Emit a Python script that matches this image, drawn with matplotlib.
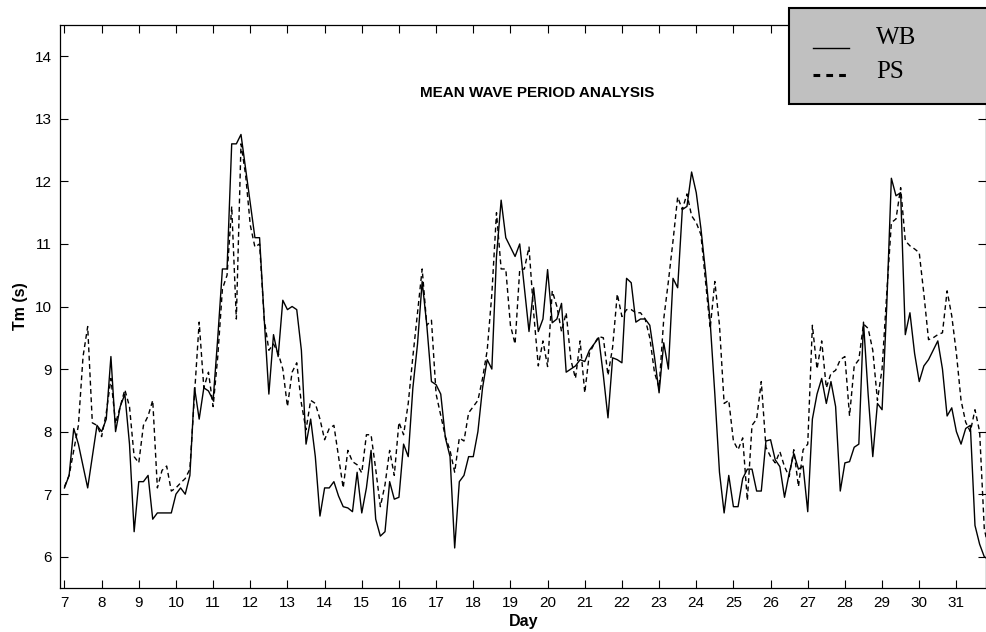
import numpy as np
import matplotlib.pyplot as plt
from matplotlib.patches import Rectangle
from matplotlib.lines import Line2D

# mean wave period, 3-hourly records starting day 7 00:00
wb = [7.1, 7.3, 8.05, 7.8, 7.45, 7.1, 7.6, 8.1,
      8.0, 8.2, 9.2, 8.0, 8.4, 8.6, 7.8, 6.4,
      7.2, 7.2, 7.3, 6.6, 6.7, 6.7, 6.7, 6.7,
      7.0, 7.1, 7.0, 7.3, 8.7, 8.2, 8.7, 8.65,
      8.5, 9.5, 10.6, 10.6, 12.6, 12.6, 12.75, 12.2,
      11.65, 11.1, 11.1, 9.8, 8.6, 9.55, 9.2, 10.1,
      9.95, 10.0, 9.95, 9.3, 7.8, 8.2, 7.6, 6.65,
      7.1, 7.1, 7.2, 6.97, 6.8, 6.78, 6.72, 7.35,
      6.7, 7.1, 7.7, 6.6, 6.33, 6.4, 7.2, 6.92,
      6.95, 7.8, 7.6, 8.7, 9.4, 10.4, 9.7, 8.8,
      8.75, 8.6, 7.9, 7.6, 6.14, 7.2, 7.3, 7.6,
      7.6, 8.0, 8.7, 9.15, 9.0, 10.8, 11.7, 11.1,
      10.95, 10.8, 11.0, 10.3, 9.6, 10.3, 9.6, 9.8,
      10.59, 9.74, 9.8, 10.05, 8.95, 9.0, 9.05, 9.15,
      9.12, 9.3, 9.4, 9.5, 8.9, 8.22, 9.18, 9.15,
      9.1, 10.45, 10.38, 9.75, 9.8, 9.8, 9.7, 9.2,
      8.62, 9.42, 9.0, 10.45, 10.3, 11.55, 11.6, 12.15,
      11.82, 11.25, 10.55, 9.75, 8.6, 7.35, 6.7, 7.3,
      6.8, 6.8, 7.25, 7.4, 7.4, 7.05, 7.05, 7.85,
      7.87, 7.55, 7.44, 6.95, 7.33, 7.65, 7.4, 7.45,
      6.72, 8.2, 8.6, 8.85, 8.45, 8.8, 8.4, 7.05,
      7.5, 7.52, 7.75, 7.8, 9.75, 8.6, 7.6, 8.45,
      8.35, 10.0, 12.05, 11.77, 11.82, 9.55, 9.9, 9.25,
      8.8, 9.05, 9.15, 9.3, 9.45, 9.0, 8.25, 8.38,
      8.0, 7.8, 8.05, 8.1, 6.5, 6.2, 6.0, 5.95]

ps = [7.12, 7.3, 7.7, 8.1, 9.2, 9.68, 8.14, 8.1,
      7.92, 8.3, 8.85, 8.13, 8.4, 8.67, 8.4, 7.6,
      7.5, 8.1, 8.25, 8.5, 7.1, 7.38, 7.45, 7.05,
      7.1, 7.18, 7.25, 7.4, 8.6, 9.75, 8.7, 8.95,
      8.4, 9.2, 10.28, 10.5, 11.6, 9.8, 12.6, 12.1,
      11.3, 10.95, 11.0, 9.8, 9.3, 9.4, 9.26, 9.0,
      8.4, 8.95, 9.1, 8.45, 8.03, 8.5, 8.45, 8.2,
      7.87, 8.05, 8.1, 7.6, 7.1, 7.7, 7.52, 7.47,
      7.34, 7.95, 7.95, 7.4, 6.8, 7.15, 7.7, 7.3,
      8.15, 7.95, 8.45, 9.2, 9.9, 10.6, 9.7, 9.78,
      8.6, 8.26, 7.92, 7.7, 7.35, 7.9, 7.85, 8.3,
      8.4, 8.5, 8.85, 9.3, 10.2, 11.5, 10.6, 10.6,
      9.7, 9.4, 10.59, 10.6, 10.95, 9.9, 9.05, 9.45,
      9.04, 10.25, 10.0, 9.6, 9.9, 9.15, 8.85, 9.45,
      8.62, 9.25, 9.4, 9.52, 9.5, 8.9, 9.35, 10.2,
      9.84, 9.95, 9.95, 9.9, 9.9, 9.8, 9.5, 8.95,
      8.7, 9.8, 10.4, 11.05, 11.75, 11.55, 11.8, 11.45,
      11.34, 11.15, 10.4, 9.65, 10.4, 9.7, 8.45, 8.5,
      7.85, 7.71, 7.9, 6.9, 8.1, 8.2, 8.8, 7.75,
      7.6, 7.5, 7.68, 7.44, 7.28, 7.71, 7.12, 7.71,
      7.8, 9.7, 9.0, 9.45, 8.7, 8.93, 8.98, 9.15,
      9.2, 8.25, 9.05, 9.15, 9.72, 9.65, 9.3, 8.5,
      9.0, 10.2, 11.34, 11.4, 11.9, 11.05, 10.97, 10.92,
      10.86, 10.2, 9.47, 9.5, 9.55, 9.58, 10.25, 9.85,
      9.25, 8.5, 8.15, 8.0, 8.35, 8.0, 6.45, 6.1]

day = 7 + np.arange(len(wb)) * 3 / 24
day_ticks = list(range(7, 32))
tm_ticks = list(range(6, 15))

wb_style = dict(color='black', linewidth=1.0, linestyle='-')
ps_style = dict(color='black', linewidth=1.0, linestyle=(0, (3.5, 2.5)))

fig = plt.figure(figsize=(9.87, 6.32), dpi=100)
ax = fig.add_axes([60 / 987, 44 / 632, 926.5 / 987, 563 / 632])

ax.plot(day, wb, **wb_style)
ax.plot(day, ps, **ps_style)

ax.set_xlim(6.88, 31.81)
ax.set_ylim(5.5, 14.5)
ax.set_xticks(day_ticks)
ax.set_yticks(tm_ticks)
ax.tick_params(direction='in', length=6, width=0.8, top=True, right=True,
               labelsize=11, pad=6, colors='black')
for lab in ax.get_xticklabels() + ax.get_yticklabels():
    lab.set_family('Liberation Sans')
for s in ax.spines.values():
    s.set_linewidth(0.9)

ax.set_xlabel('Day', fontsize=11.5, fontweight='bold', family='Liberation Sans')
ax.set_ylabel('Tm (s)', fontsize=11.5, fontweight='bold', family='Liberation Sans')
ax.xaxis.set_label_coords(0.5, -0.047)
ax.yaxis.set_label_coords(-0.035, 0.5)

ax.text(0.515, 0.879, 'MEAN WAVE PERIOD ANALYSIS', transform=ax.transAxes,
        ha='center', va='center', fontsize=11, fontweight='bold',
        family='Liberation Sans')

# legend box in the top right corner, running off the edge
W, H = 987, 632
box = Rectangle((789 / W, 1 - 104 / H), 220 / W, 96 / H, transform=fig.transFigure,
                facecolor='#c0c0c0', edgecolor='black', linewidth=1.5,
                zorder=5, clip_on=False)
fig.add_artist(box)
fig.add_artist(Line2D([813 / W, 849 / W], [1 - 48 / H, 1 - 48 / H],
                      transform=fig.transFigure, zorder=6, **wb_style))
fig.add_artist(Line2D([813 / W, 849 / W], [1 - 75 / H, 1 - 75 / H],
                      transform=fig.transFigure, zorder=6, color='black',
                      linewidth=2.2, linestyle=(0, (2.2, 2.0))))
fig.text(876 / W, 1 - 38 / H, 'WB', family='Liberation Serif', fontsize=18,
         va='center', ha='left', zorder=7)
fig.text(876 / W, 1 - 72 / H, 'PS', family='Liberation Serif', fontsize=18,
         va='center', ha='left', zorder=7)

plt.savefig('out.png', dpi=100)
